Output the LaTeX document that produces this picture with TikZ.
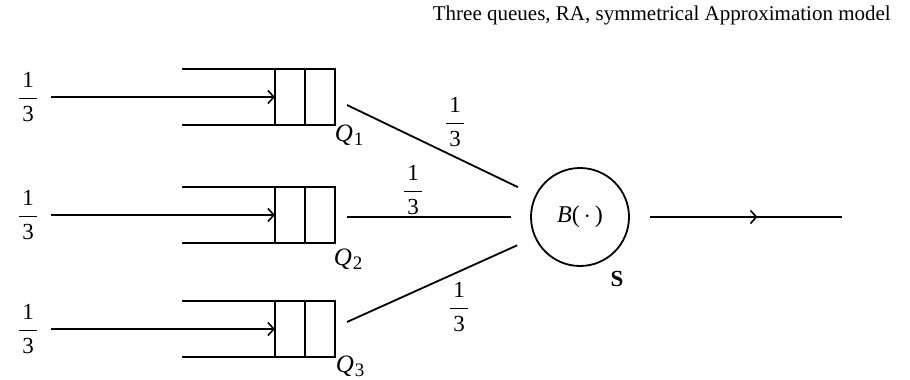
\documentclass[tikz,border=0pt]{standalone}
\usepackage{fontspec}
\setmainfont{Liberation Serif}
\usetikzlibrary{arrows.meta,decorations.markings}
% one-third fraction with text-size digits and a wide bar
\newcommand{\onethird}{{\fontsize{23}{27}\selectfont
  $\displaystyle\frac{\mbox{\kern3pt 1\kern3pt}}{\mbox{\kern3pt 3\kern3pt}}$}}
% queue label Q_n
\newcommand{\qlab}[1]{{\fontsize{25}{29}\selectfont\textit{Q}\kern1pt\raisebox{-0.35ex}{\fontsize{19}{21}\selectfont #1}}}
\begin{document}
\begin{tikzpicture}[x=1pt,y=-1pt,line width=1.8pt,
  font=\fontsize{21}{25}\selectfont,
  cell/.style={draw,minimum width=60pt,minimum height=56pt,inner sep=0pt,outer sep=0pt},
  feed/.style={-{Straight Barb[length=6pt,width=13pt,line width=1.6pt]},shorten <=12pt},
  link/.style={shorten >=19pt},
  frac/.style={inner sep=0pt},
  server/.style={circle,draw,minimum size=98pt,inner sep=0pt},
  qname/.style={anchor=base west,inner sep=0pt}]
\useasboundingbox (0,0) rectangle (910,380);

% title
\node[anchor=base west,inner sep=0pt] (title) at (432,20)
  {Three queues, RA, symmetrical Approximation model};

% queues: two-cell buffer with open entrance
\foreach \i/\y in {1/97,2/215,3/329}{
  \node[cell] (q\i) at (305,\y) {};
  \draw (q\i.north) -- (q\i.south);
  \draw (q\i.north west) -- ++(-93,0);
  \draw (q\i.south west) -- ++(-93,0);
  \node[frac] (f\i) at (28,\y) {\onethird};
  \draw[feed] (f\i) -- (q\i);
}

% queue names
\node[qname] (n1) at (334,141) {\qlab{1}};
\node[qname] (n2) at (333,265) {\qlab{2}};
\node[qname] (n3) at (335,372) {\qlab{3}};

% server
\node[server] (srv) at (580,217) {\fontsize{24}{28}\selectfont\textit{B}(\,$\cdot$\,)};
\node[inner sep=0pt] (slab) at (617,279) {\fontsize{23}{27}\selectfont\textbf{S}};

% routing links from the queues to the server
\coordinate (o1) at (347,105);
\coordinate (o2) at (347,217);
\coordinate (o3) at (347,322);
\draw[link] (o1) -- (srv);
\draw[link] (o2) -- (srv);
\draw[link] (o3) -- (srv);
\node[frac] (p1) at (455,122) {\onethird};
\node[frac] (p2) at (413,190) {\onethird};
\node[frac] (p3) at (459,307) {\onethird};

% departure stream
\coordinate (outA) at (650,217);
\coordinate (outB) at (842,217);
\draw[postaction={decorate},decoration={markings,
  mark=at position 0.56 with {\arrow{Straight Barb[length=6pt,width=13pt,line width=1.6pt]}}}]
  (outA) -- (outB);
\end{tikzpicture}
\end{document}
